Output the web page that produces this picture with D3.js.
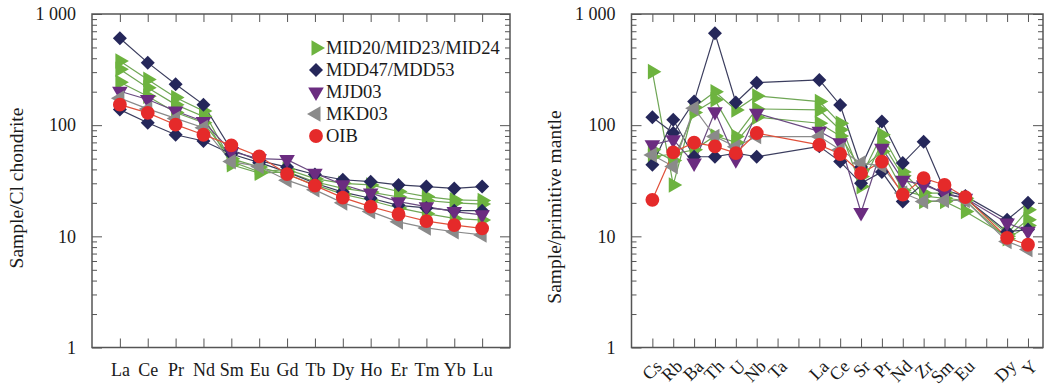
<!DOCTYPE html>
<html>
<head>
<meta charset="utf-8">
<script src="https://cdn.jsdelivr.net/npm/d3@7"></script>
<style>
  body { margin: 0; background: #fff; }
  svg { display: block; }
  text { font-family: "Liberation Serif", "Times New Roman", Times, serif; }
</style>
</head>
<body>
<svg id="chart" width="1045" height="385"></svg>
<script>
// chondrite-normalised REE
const reeElements = ["La", "Ce", "Pr", "Nd", "Sm", "Eu", "Gd", "Tb", "Dy", "Ho", "Er", "Tm", "Yb", "Lu"];
const mid20Ree = [378, 258, 177, 134, 47, 38, 40, 33, 30, 29, 25.3, 22.8, 21.3, 21];
const mid23Ree = [318, 217, 153, 120, 44, 37, 38, 31, 27, 25, 22.6, 21, 20, 19.5];
const mid24Ree = [243, 182, 130, 105, 50, 42, 36, 29, 24, 21, 18, 16, 14.5, 14];
const mdd47Ree = [606, 365, 233, 153, 60, 48, 42, 36, 32.3, 31, 29, 28, 27, 28];
const mdd53Ree = [138, 105, 82, 72, 55, 46, 38, 30, 25, 22, 19, 18, 17, 17];
const mjd03Ree = [202, 170, 134, 108, 58, 50, 49, 37, 29.1, 24.5, 20.5, 18.5, 16.7, 15.6];
const mkd03Ree = [175, 140, 115, 95, 47, 42.5, 32, 26.2, 20, 16.7, 13.5, 11.9, 11, 10.3];
const oibRee = [153, 129, 101, 82, 65.8, 52.4, 36.3, 28.6, 22.3, 18.5, 15.8, 13.7, 12.6, 11.8];

// primitive-mantle-normalised spider (blank ticks have no label, Ta has no data)
const spiderElements = ["Cs", "Rb", "Ba", "Th", "U", "Nb", "Ta", "", "La", "Ce", "Sr", "Pr", "Nd", "Zr", "Sm", "Eu", "", "Dy", "Y"];
const mid20Spider = [303, 29, 145, 200, 137, 183, null, null, 163, 104, 34.5, 82, 38, 24.5, 24.5, 22, null, 10.5, 17.3];
const mid23Spider = [60, 48, 130, 169, 79, 140, null, null, 137, 91, 28, 70, 35, 20.6, 20.6, 16.7, null, 10, 14.1];
const mid24Spider = [52, 55, 60, 80, 70, 118, null, null, 104, 80, 40, 58, 26, 23, 22, 21, null, 9.5, 12.5];
const mdd47Spider = [118, 85, 163, 670, 160, 241, null, null, 255, 152, 42, 108, 45.6, 71, 26, 23, null, 14.1, 20];
const mdd53Spider = [44, 112, 52, 52, 56, 52, null, null, 64.5, 47, 30, 38, 20.6, 30, 24, 22, null, 11, 11.5];
const mjd03Spider = [66.5, 74, 45.6, 132, 48.8, 128, null, null, 88, 69.5, 16.4, 62, 32, 29, 24.5, 22, null, 13.2, 11.1];
const mkd03Spider = [54, 42.5, 142, 79, 64, 79, null, null, 79, 60, 45.6, 43, 24.5, 20.6, 21, 21, null, 9, 7.6];
const oibSpider = [21.3, 57, 69.5, 64.5, 56, 85, null, null, 66.5, 55, 37, 47, 23.7, 33.4, 29, 22.5, null, 9.7, 8.4];

const yTickValues = [1, 10, 100, 1000];
const yTickLabels = ["1", "10", "100", "1 000"];
const legendNames = ["MID20/MID23/MID24", "MDD47/MDD53", "MJD03", "MKD03", "OIB"];

// group index -> legend entry
const reeSamples = [
  { group: 0, values: mid20Ree }, { group: 0, values: mid23Ree }, { group: 0, values: mid24Ree },
  { group: 1, values: mdd47Ree }, { group: 1, values: mdd53Ree },
  { group: 2, values: mjd03Ree }, { group: 3, values: mkd03Ree }, { group: 4, values: oibRee }
];
const spiderSamples = [
  { group: 0, values: mid20Spider }, { group: 0, values: mid23Spider }, { group: 0, values: mid24Spider },
  { group: 1, values: mdd47Spider }, { group: 1, values: mdd53Spider },
  { group: 2, values: mjd03Spider }, { group: 3, values: mkd03Spider }, { group: 4, values: oibSpider }
];

const groupStyles = [
  { shape: 'tri', angle: 90, color: '#6db33f', line: '#6fa655' },
  { shape: 'diamond', angle: 45, color: '#25275a', line: '#3b3d5e' },
  { shape: 'tri', angle: 180, color: '#6b2c80', line: '#6a4a80' },
  { shape: 'tri', angle: -90, color: '#8a8a8a', line: '#8a8a8a' },
  { shape: 'circle', angle: 0, color: '#e52a2a', line: '#e0503a' }
];

const svg = d3.select('#chart');
const fontFamily = '"Liberation Serif", "Times New Roman", Times, serif';
const textColor = '#1a1a1a';
const axisColor = '#555';

function symbolPath(st) {
  if (st.shape === 'tri') return d3.symbol(d3.symbolTriangle, 105)();
  if (st.shape === 'diamond') return d3.symbol(d3.symbolSquare, 98)();
  return d3.symbol(d3.symbolCircle, 150)();
}

const minorValues = [];
[1, 10, 100].forEach(d => { for (let k = 2; k < 10; k++) minorValues.push(d * k); });

function styleAxis(sel) {
  sel.attr('font-family', fontFamily).attr('font-size', 18).attr('color', axisColor);
  sel.select('.domain').remove();
  sel.selectAll('text').attr('fill', textColor);
}

function drawPanel(p) {
  const x = d3.scaleLinear().domain([0, p.xMax]).range([p.left, p.right]);
  const y = d3.scaleLog().domain([1, 1000]).range([p.bottom, p.top]);
  const g = svg.append('g');
  const idx = p.categories.map((c, i) => i + 1);

  // y axes (ticks point inward)
  g.append('g').attr('transform', `translate(${p.left},0)`)
    .call(d3.axisLeft(y).tickValues(yTickValues).tickSize(-10).tickPadding(16)
      .tickFormat(d => yTickLabels[yTickValues.indexOf(d)]))
    .call(styleAxis);
  g.append('g').attr('transform', `translate(${p.left},0)`)
    .call(d3.axisLeft(y).tickValues(minorValues).tickSize(-5).tickFormat(''))
    .call(styleAxis);
  g.append('g').attr('transform', `translate(${p.right},0)`)
    .call(d3.axisRight(y).tickValues(yTickValues).tickSize(-10).tickFormat(''))
    .call(styleAxis);
  g.append('g').attr('transform', `translate(${p.right},0)`)
    .call(d3.axisRight(y).tickValues(minorValues).tickSize(-5).tickFormat(''))
    .call(styleAxis);

  // x axes
  const bottomAxis = g.append('g').attr('transform', `translate(0,${p.bottom})`)
    .call(d3.axisBottom(x).tickValues(idx).tickSize(-9).tickPadding(16)
      .tickFormat(i => p.categories[i - 1]))
    .call(styleAxis);
  if (p.rotateLabels) {
    bottomAxis.selectAll('text')
      .attr('y', 0).attr('dy', 0)
      .attr('text-anchor', 'end')
      .attr('transform', 'translate(10,20) rotate(-45)');
  }
  g.append('g').attr('transform', `translate(0,${p.top})`)
    .call(d3.axisTop(x).tickValues(idx).tickSize(-8).tickFormat(''))
    .call(styleAxis);

  g.append('rect')
    .attr('x', p.left).attr('y', p.top)
    .attr('width', p.right - p.left).attr('height', p.bottom - p.top)
    .attr('fill', 'none').attr('stroke', axisColor).attr('stroke-width', 1.5);

  // y label
  g.append('text')
    .attr('transform', `translate(${p.labelX},${p.labelY}) rotate(-90)`)
    .attr('text-anchor', 'middle')
    .attr('font-family', fontFamily)
    .attr('font-size', 19.5)
    .attr('fill', textColor)
    .text(p.yLabel);

  const line = d3.line().x(d => x(d[0])).y(d => y(d[1]));
  const pointsOf = s => s.values.map((v, i) => [i + 1, v]).filter(d => d[1] != null);

  g.append('g').selectAll('path')
    .data(p.samples)
    .join('path')
    .attr('fill', 'none')
    .attr('stroke', s => groupStyles[s.group].line)
    .attr('stroke-width', 1.2)
    .attr('d', s => line(pointsOf(s)));

  p.samples.forEach(s => {
    const st = groupStyles[s.group];
    g.append('g').selectAll('path')
      .data(pointsOf(s))
      .join('path')
      .attr('d', symbolPath(st))
      .attr('transform', d => `translate(${x(d[0])},${y(d[1])}) rotate(${st.angle})`)
      .attr('fill', st.color);
  });
}

drawPanel({
  left: 92, right: 510, top: 14, bottom: 347.5, xMax: 15,
  categories: reeElements, samples: reeSamples,
  yLabel: 'Sample/Cl chondrite', labelX: 23, labelY: 188, rotateLabels: false
});

drawPanel({
  left: 631.5, right: 1043, top: 14, bottom: 347.5, xMax: 19.72,
  categories: spiderElements, samples: spiderSamples,
  yLabel: 'Sample/primitive mantle', labelX: 561, labelY: 207, rotateLabels: true
});

// legend in the left panel
const legend = svg.append('g').attr('transform', 'translate(316,48)');
const rows = legend.selectAll('g')
  .data(legendNames)
  .join('g')
  .attr('transform', (d, i) => `translate(0,${i * 22})`);
rows.append('path')
  .attr('d', (d, i) => symbolPath(groupStyles[i]))
  .attr('transform', (d, i) => `rotate(${groupStyles[i].angle})`)
  .attr('fill', (d, i) => groupStyles[i].color);
rows.append('text')
  .attr('x', 10).attr('y', 6)
  .attr('font-family', fontFamily)
  .attr('font-size', 18.5)
  .attr('fill', textColor)
  .text(d => d);
</script>
</body>
</html>
